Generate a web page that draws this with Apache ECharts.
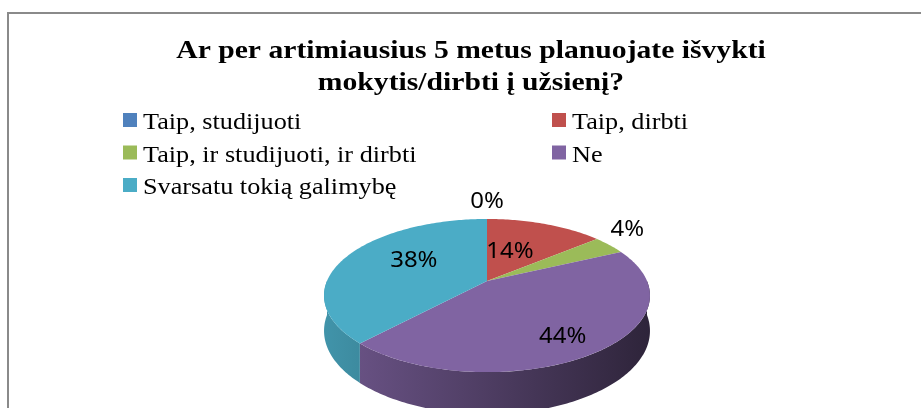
<!DOCTYPE html>
<html>
<head>
<meta charset="utf-8">
<title>Ar per artimiausius 5 metus planuojate išvykti mokytis/dirbti į užsienį?</title>
<script src="https://cdn.jsdelivr.net/npm/echarts@6/dist/echarts.min.js"></script>
<style>
  html, body { margin: 0; padding: 0; background: #fff; }
  #chart { width: 921px; height: 408px; }
</style>
</head>
<body>
<div id="chart"></div>
<script>
var titleLines = ['Ar per artimiausius 5 metus planuojate išvykti', 'mokytis/dirbti į užsienį?'];
var categories = ['Taip, studijuoti', 'Taip, dirbti', 'Taip, ir studijuoti, ir dirbti', 'Ne', 'Svarsatu tokią galimybę'];
var percents = [0, 14, 4, 44, 38];
var colors = ['#4f81bd', '#c0504d', '#9bbb59', '#8064a2', '#4bacc6'];

var pieChart = function(element)
{
    var myChart = echarts.init(element, null, {
        renderer: 'canvas'
    });

    // the picture is stretched sideways, so is its text
    var stretch = 1.14;
    // projected 3d pie: centre, radii, perspective and thickness
    var cx = 487, cy = 281, rx = 160, ry = 73.8, persp = 0.19, depth = 34;
    // where each percent label sits: radius and a small turn off the mid angle
    var labelRadius = [1.34, 0.45, 1.29, 0.78, 0.56];
    var labelTurn = [0, -5, -6, 4, 9];

    var total = percents.reduce(function(a, b) { return a + b; }, 0);
    var starts = [];
    var acc = 0;
    percents.forEach(function(p) {
        starts.push(acc / total * 360);
        acc += p;
    });

    function project(r, deg, down) {
        var a = deg * Math.PI / 180;
        var u = r * Math.sin(a), v = r * Math.cos(a);
        var s = 1 / (1 + persp * v);
        return [cx + rx * u * s, cy - ry * v * s + (down ? depth * s : 0)];
    }

    function arc(a0, a1, down) {
        var pts = [];
        var n = Math.max(2, Math.ceil(a1 - a0));
        for (var i = 0; i <= n; i++) {
            pts.push(project(1, a0 + (a1 - a0) * i / n, down));
        }
        return pts;
    }

    function shade(hex, f) {
        var c = echarts.color.parse(hex);
        return 'rgb(' + Math.round(c[0] * f) + ',' + Math.round(c[1] * f) + ',' + Math.round(c[2] * f) + ')';
    }

    function renderSlice(params, api) {
        var i = params.dataIndex;
        var a0 = starts[i];
        var a1 = a0 + api.value(0) / total * 360;
        var children = [];
        if (a1 > a0) {
            // front rim
            var f0 = Math.max(a0, 90), f1 = Math.min(a1, 270);
            if (f1 > f0) {
                var top = arc(f0, f1, false);
                var bottom = arc(f0, f1, true).reverse();
                children.push({
                    type: 'polygon',
                    z2: 1,
                    shape: { points: top.concat(bottom) },
                    style: {
                        fill: new echarts.graphic.LinearGradient(cx - rx * 1.02, 0, cx + rx * 1.02, 0, [
                            { offset: 0, color: shade(colors[i], 0.86) },
                            { offset: 1, color: shade(colors[i], 0.36) }
                        ], true)
                    }
                });
            }
            children.push({
                type: 'polygon',
                z2: 2,
                shape: { points: [[cx, cy]].concat(arc(a0, a1, false)) },
                style: { fill: colors[i] }
            });
        }
        var lp = project(labelRadius[i], (a0 + a1) / 2 + labelTurn[i], false);
        children.push({
            type: 'text',
            z2: 10,
            x: lp[0],
            y: lp[1],
            scaleX: stretch,
            style: {
                text: api.value(0) + '%',
                x: 0,
                y: 0,
                align: 'center',
                verticalAlign: 'middle',
                font: '21px "Noto Sans"',
                fill: '#000'
            }
        });
        return { type: 'group', children: children };
    }

    var graphics = [{
        type: 'rect',
        shape: { x: 8, y: 13, width: 1000, height: 600 },
        style: { fill: 'none', stroke: '#8a8a8a', lineWidth: 2 }
    }];
    titleLines.forEach(function(line, k) {
        graphics.push({
            type: 'text',
            x: 471,
            y: 51 + k * 32,
            scaleX: stretch,
            style: {
                text: line,
                x: 0,
                y: 0,
                align: 'center',
                verticalAlign: 'middle',
                font: 'bold 26px "Liberation Serif"',
                fill: '#000'
            }
        });
    });
    // legend, two columns
    categories.forEach(function(name, k) {
        var col = k % 2, row = Math.floor(k / 2);
        var lx = col === 0 ? 123 : 552;
        var ly = 120 + row * 32.5;
        graphics.push({
            type: 'rect',
            shape: { x: lx, y: ly - 7, width: 14, height: 14 },
            style: { fill: colors[k] }
        });
        graphics.push({
            type: 'text',
            x: lx + 20,
            y: ly + 3,
            scaleX: stretch,
            style: {
                text: name,
                x: 0,
                y: 0,
                align: 'left',
                verticalAlign: 'middle',
                font: '23px "Liberation Serif"',
                fill: '#000'
            }
        });
    });

    var option = {
        animation: false,
        backgroundColor: '#fff',
        graphic: graphics,
        series: [{
            type: 'custom',
            coordinateSystem: 'none',
            silent: true,
            renderItem: renderSlice,
            data: percents.map(function(p) { return [p]; })
        }]
    };

    myChart.setOption(option);
    window.addEventListener('resize', myChart.resize);
};

pieChart(document.getElementById('chart'));
</script>
</body>
</html>
